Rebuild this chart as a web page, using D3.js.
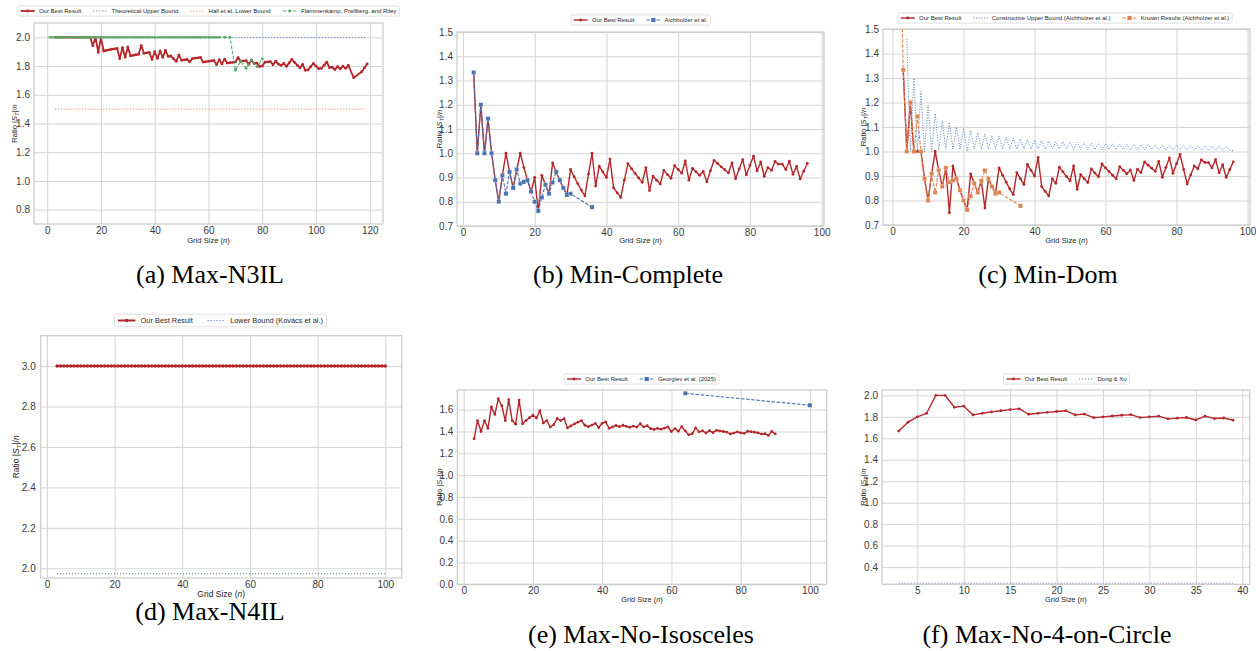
<!DOCTYPE html>
<html>
<head>
<meta charset="utf-8">
<script src="https://d3js.org/d3.v7.min.js"></script>
<style>
  body { margin: 0; background: #fff; }
  svg { font-family: "Liberation Sans", Arial, sans-serif; }
  .grid line { stroke: #d4d4d4; stroke-width: 1; }
  .grid path { display: none; }
  .grid text { fill: #3a3a3a; }
  .frame { fill: none; stroke: #cccccc; stroke-width: 1.25; }
  .axlab { fill: #262626; }
  .caption { font-family: "Liberation Serif", "DejaVu Serif", serif; fill: #000; }
</style>
</head>
<body>
<script>
// ---------- data ----------
// (a) Max-N3IL
var n3ilN = d3.range(3, 113).concat([114, 117, 118, 119]);
var n3ilBest = [2.0, 2.0, 2.0, 2.0, 2.0, 2.0, 2.0, 2.0, 2.0, 2.0, 2.0, 2.0, 2.0, 2.0,
  1.941, 2.0, 1.895, 2.0, 1.905, 1.909, 1.913, 1.917, 1.92, 1.923,
  1.852, 1.929, 1.862, 1.933, 1.871, 1.875, 1.879, 1.882, 1.943, 1.889,
  1.892, 1.895, 1.846, 1.9, 1.854, 1.905, 1.86, 1.909, 1.867, 1.87,
  1.851, 1.833, 1.878, 1.84, 1.843, 1.846, 1.83, 1.852, 1.855, 1.857,
  1.86, 1.828, 1.831, 1.833, 1.836, 1.839, 1.81, 1.844, 1.815, 1.848,
  1.821, 1.824, 1.826, 1.829, 1.859, 1.833, 1.836, 1.838, 1.813, 1.842,
  1.818, 1.821, 1.797, 1.8, 1.827, 1.829, 1.831, 1.81, 1.835, 1.814,
  1.805, 1.818, 1.798, 1.822, 1.846, 1.826, 1.806, 1.787, 1.811, 1.771,
  1.773, 1.796, 1.818, 1.8, 1.782, 1.784, 1.806, 1.827, 1.79, 1.792,
  1.776, 1.796, 1.78, 1.8, 1.784, 1.804,
  1.719, 1.761, 1.788, 1.815];
var n3ilUpperN = [3, 119], n3ilUpperV = [2.0, 2.0];
var n3ilHallN = [3, 119], n3ilHallV = [1.5, 1.5];
var n3ilFlamN = d3.range(1, 65).concat([66, 68, 70, 72, 74, 76, 78, 80]);
var n3ilFlamV = [2.0, 2.0, 2.0, 2.0, 2.0, 2.0, 2.0, 2.0, 2.0, 2.0, 2.0, 2.0, 2.0, 2.0, 2.0, 2.0,
  2.0, 2.0, 2.0, 2.0, 2.0, 2.0, 2.0, 2.0, 2.0, 2.0, 2.0, 2.0, 2.0, 2.0, 2.0, 2.0,
  2.0, 2.0, 2.0, 2.0, 2.0, 2.0, 2.0, 2.0, 2.0, 2.0, 2.0, 2.0, 2.0, 2.0, 2.0, 2.0,
  2.0, 2.0, 2.0, 2.0, 2.0, 2.0, 2.0, 2.0, 2.0, 2.0, 2.0, 2.0, 2.0, 2.0, 2.0, 2.0,
  2.0, 2.0, 1.771, 1.833, 1.784, 1.842, 1.795, 1.85];

// (b) Min-Complete
var completeN = d3.range(3, 97);
var completeBest = [1.333, 1.0, 1.2, 1.0, 1.143, 1.0, 0.889, 0.8, 0.909, 1.0,
  0.923, 0.857, 0.933, 1.0, 0.941, 0.889, 0.842, 0.9, 0.762, 0.909,
  0.870, 0.833, 0.96, 0.923, 0.889, 0.857, 0.828, 0.933, 0.903, 0.875,
  0.848, 0.824, 0.914, 1.0, 0.865, 0.947, 0.923, 0.9, 0.976, 0.857,
  0.837, 0.818, 0.889, 0.957, 0.936, 0.917, 0.898, 0.88, 0.941, 0.846,
  0.906, 0.889, 0.873, 0.929, 0.912, 0.897, 0.949, 0.933, 0.918, 0.968,
  0.889, 0.938, 0.923, 0.909, 0.925, 0.882, 0.928, 0.971, 0.958, 0.944,
  0.932, 0.919, 0.96, 0.895, 0.935, 0.974, 0.911, 0.95, 0.988, 0.927,
  0.964, 0.905, 0.941, 0.93, 0.966, 0.955, 0.955, 0.933, 0.967, 0.913,
  0.946, 0.894, 0.926, 0.958];
var aichN = d3.range(3, 31).concat([36]);
var aichV = [1.333, 1.0, 1.2, 1.0, 1.143, 1.0, 0.889, 0.8, 0.909, 0.833,
  0.923, 0.857, 0.933, 0.875, 0.882, 0.889, 0.842, 0.8, 0.762, 0.818,
  0.870, 0.833, 0.88, 0.923, 0.889, 0.857, 0.828, 0.833, 0.778];

// (c) Min-Dom
var domN = d3.range(3, 97);
var domBest = [1.333, 1.0, 1.2, 1.0, 1.0, 1.0, 0.889, 0.8, 0.909, 1.0,
  0.923, 0.857, 0.933, 0.75, 0.941, 0.889, 0.842, 0.8, 0.762, 0.909,
  0.870, 0.833, 0.88, 0.769, 0.889, 0.857, 0.828, 0.933, 0.903, 0.875,
  0.848, 0.824, 0.914, 0.889, 0.865, 0.947, 0.923, 0.9, 0.976, 0.857,
  0.837, 0.818, 0.889, 0.87, 0.936, 0.917, 0.898, 0.88, 0.941, 0.846,
  0.906, 0.889, 0.873, 0.929, 0.912, 0.897, 0.949, 0.933, 0.918, 0.903,
  0.889, 0.938, 0.923, 0.909, 0.925, 0.882, 0.928, 0.914, 0.958, 0.944,
  0.932, 0.919, 0.96, 0.895, 0.935, 0.974, 0.911, 0.95, 0.988, 0.927,
  0.867, 0.905, 0.941, 0.93, 0.966, 0.955, 0.955, 0.933, 0.967, 0.913,
  0.946, 0.894, 0.926, 0.958];
var domUpperN = d3.range(4, 97);
var domUpperV = [1.46, 1.0, 1.30, 1.0, 1.245, 1.0, 1.19, 1.0, 1.155, 1.005,
  1.125, 1.01, 1.12, 1.01, 1.10, 1.01, 1.095, 1.0, 1.087, 1.01,
  1.078, 1.01, 1.072, 1.01, 1.066, 1.01, 1.062, 1.01, 1.058, 1.01,
  1.054, 1.01, 1.052, 1.01, 1.049, 1.01, 1.047, 1.01, 1.045, 1.01,
  1.043, 1.01, 1.041, 1.01, 1.04, 1.01, 1.038, 1.008, 1.037, 1.008,
  1.036, 1.008, 1.034, 1.008, 1.033, 1.008, 1.032, 1.008, 1.031, 1.008,
  1.03, 1.008, 1.029, 1.007, 1.028, 1.007, 1.028, 1.007, 1.027, 1.007,
  1.026, 1.007, 1.026, 1.006, 1.025, 1.006, 1.025, 1.006, 1.024, 1.006,
  1.023, 1.006, 1.023, 1.006, 1.022, 1.005, 1.022, 1.005, 1.021, 1.005,
  1.021, 1.005, 1.003];
var domKnownN = [2].concat(d3.range(3, 31), [36]);
var domKnownV = [2.0, 1.333, 1.0, 1.2, 1.0, 1.143, 1.0, 0.889, 0.8, 0.909, 0.833,
  0.923, 0.857, 0.933, 0.875, 0.882, 0.889, 0.842, 0.8, 0.762, 0.818,
  0.870, 0.833, 0.88, 0.923, 0.889, 0.857, 0.828, 0.833, 0.778];

// (d) Max-N4IL
var n4ilN = d3.range(3, 101);
var n4ilBest = [3.0, 3.0, 3.0, 3.0, 3.0, 3.0, 3.0, 3.0, 3.0, 3.0, 3.0, 3.0, 3.0, 3.0,
  3.0, 3.0, 3.0, 3.0, 3.0, 3.0, 3.0, 3.0, 3.0, 3.0, 3.0, 3.0, 3.0, 3.0,
  3.0, 3.0, 3.0, 3.0, 3.0, 3.0, 3.0, 3.0, 3.0, 3.0, 3.0, 3.0, 3.0, 3.0,
  3.0, 3.0, 3.0, 3.0, 3.0, 3.0, 3.0, 3.0, 3.0, 3.0, 3.0, 3.0, 3.0, 3.0,
  3.0, 3.0, 3.0, 3.0, 3.0, 3.0, 3.0, 3.0, 3.0, 3.0, 3.0, 3.0, 3.0, 3.0,
  3.0, 3.0, 3.0, 3.0, 3.0, 3.0, 3.0, 3.0, 3.0, 3.0, 3.0, 3.0, 3.0, 3.0,
  3.0, 3.0, 3.0, 3.0, 3.0, 3.0, 3.0, 3.0, 3.0, 3.0, 3.0, 3.0, 3.0, 3.0];
var n4ilLowerN = [3, 100], n4ilLowerV = [1.973, 1.973];

// (e) Max-No-Isosceles
var isoN = d3.range(3, 91);
var isoBest = [1.333, 1.5, 1.4, 1.5, 1.429, 1.625, 1.556, 1.7, 1.636, 1.5,
  1.692, 1.5, 1.467, 1.688, 1.471, 1.5, 1.526, 1.55, 1.524, 1.591,
  1.478, 1.5, 1.44, 1.462, 1.519, 1.5, 1.517, 1.433, 1.452, 1.469,
  1.485, 1.5, 1.457, 1.444, 1.459, 1.474, 1.436, 1.475, 1.488, 1.429,
  1.442, 1.455, 1.444, 1.457, 1.447, 1.438, 1.449, 1.44, 1.471, 1.442,
  1.453, 1.426, 1.418, 1.429, 1.421, 1.431, 1.441, 1.4, 1.426, 1.403,
  1.444, 1.406, 1.369, 1.379, 1.433, 1.397, 1.406, 1.386, 1.408, 1.389,
  1.411, 1.405, 1.4, 1.395, 1.377, 1.385, 1.397, 1.388, 1.383, 1.402,
  1.398, 1.393, 1.388, 1.376, 1.379, 1.364, 1.4, 1.378];
var georgievN = [64, 100], georgievV = [1.75, 1.64];

// (f) Max-No-4-on-Circle
var circN = d3.range(3, 40);
var circBest = [1.667, 1.75, 1.8, 1.833, 2.0, 2.0, 1.889, 1.9, 1.818, 1.833,
  1.846, 1.857, 1.867, 1.875, 1.824, 1.833, 1.842, 1.85, 1.857, 1.818,
  1.826, 1.792, 1.8, 1.808, 1.815, 1.821, 1.793, 1.8, 1.806, 1.781,
  1.788, 1.794, 1.771, 1.806, 1.784, 1.789, 1.769];
var dongN = [3, 39], dongV = [0.25, 0.25];

// tick values
var ticks0to100 = [0, 20, 40, 60, 80, 100];
var ticks0to120 = [0, 20, 40, 60, 80, 100, 120];
var ticks5to40 = [5, 10, 15, 20, 25, 30, 35, 40];
var yTicksA = [0.8, 1.0, 1.2, 1.4, 1.6, 1.8, 2.0];
var yTicksBC = [0.7, 0.8, 0.9, 1.0, 1.1, 1.2, 1.3, 1.4, 1.5];
var yTicksD = [2.0, 2.2, 2.4, 2.6, 2.8, 3.0];
var yTicksE = [0.0, 0.2, 0.4, 0.6, 0.8, 1.0, 1.2, 1.4, 1.6];
var yTicksF = [0.4, 0.6, 0.8, 1.0, 1.2, 1.4, 1.6, 1.8, 2.0];

// colours
var RED = "#b4262a", BLUE = "#4c72b0", ORANGE = "#dd8452", GREEN = "#55a868";

// ---------- drawing ----------
var svg = d3.select("body").append("svg").attr("width", 1256).attr("height", 651);
var clipId = 0;

function drawSeries(g, x, y, s) {
  var pts = s.n.map(function (n, i) { return [n, s.v[i]]; });
  var line = d3.line().x(function (d) { return x(d[0]); }).y(function (d) { return y(d[1]); });
  g.append("path").attr("d", line(pts))
    .attr("fill", "none").attr("stroke", s.color).attr("stroke-width", s.lw)
    .attr("stroke-dasharray", s.dash || null).attr("stroke-linejoin", "round");
  if (s.marker === "o") {
    g.selectAll(null).data(pts).enter().append("circle")
      .attr("cx", function (d) { return x(d[0]); })
      .attr("cy", function (d) { return y(d[1]); })
      .attr("r", s.ms).attr("fill", s.color);
  } else if (s.marker === "s") {
    g.selectAll(null).data(pts).enter().append("rect")
      .attr("x", function (d) { return x(d[0]) - s.ms; })
      .attr("y", function (d) { return y(d[1]) - s.ms; })
      .attr("width", 2 * s.ms).attr("height", 2 * s.ms)
      .attr("fill", s.color).attr("stroke", "#fff").attr("stroke-width", 0.4).attr("stroke-opacity", 0.6);
  }
}

// "Ratio |S_T|/n" in mathtext style, shifts given in px so rotation does not matter
function ratioLabel(sel, fs) {
  var sub = fs * 0.22;
  sel.append("tspan").text("Ratio |");
  sel.append("tspan").attr("font-style", "italic").text("S");
  sel.append("tspan").attr("font-style", "italic").attr("font-size", fs * 0.7).attr("dy", sub).text("T");
  sel.append("tspan").attr("dy", -sub).text("|/");
  sel.append("tspan").attr("font-style", "italic").text("n");
}

function gridLabel(sel) {
  sel.append("tspan").text("Grid Size (");
  sel.append("tspan").attr("font-style", "italic").text("n");
  sel.append("tspan").text(")");
}

function legend(cfg, items) {
  var fs = cfg.fs, hl = fs * 2.35, gap = fs * 0.7, colgap = fs * 2, pad = fs * 0.5, h = fs * 1.7;
  var lg = svg.append("g").attr("font-size", fs);
  var box = lg.append("rect");
  var x0 = 0;
  items.forEach(function (it) {
    lg.append("line").attr("x1", x0).attr("x2", x0 + hl).attr("y1", 0).attr("y2", 0)
      .attr("stroke", it.color).attr("stroke-width", it.lw).attr("stroke-dasharray", it.dash || null);
    if (it.marker === "o") {
      lg.append("circle").attr("cx", x0 + hl / 2).attr("cy", 0).attr("r", it.ms).attr("fill", it.color);
    } else if (it.marker === "s") {
      lg.append("rect").attr("x", x0 + hl / 2 - it.ms).attr("y", -it.ms)
        .attr("width", 2 * it.ms).attr("height", 2 * it.ms).attr("fill", it.color);
    }
    var t = lg.append("text").attr("x", x0 + hl + gap).attr("y", 0).attr("dy", "0.35em")
      .attr("fill", "#262626").text(it.label);
    x0 += hl + gap + t.node().getComputedTextLength() + colgap;
  });
  var total = x0 - colgap;
  box.attr("x", -pad).attr("y", -h / 2).attr("width", total + 2 * pad).attr("height", h)
    .attr("rx", 1.5).attr("fill", "#fff").attr("fill-opacity", 0.85)
    .attr("stroke", "#d8d8d8").attr("stroke-width", 0.8);
  lg.attr("transform", "translate(" + (cfg.cx - total / 2) + "," + cfg.cy + ")");
}

function panel(p) {
  var x = d3.scaleLinear().domain(p.xd).range([p.l, p.r]);
  var y = d3.scaleLinear().domain(p.yd).range([p.b, p.t]);
  var g = svg.append("g");

  g.append("g").attr("class", "grid").attr("transform", "translate(0," + p.b + ")")
    .attr("font-size", p.fs)
    .call(d3.axisBottom(x).tickValues(p.xt).tickSize(-(p.b - p.t)).tickPadding(p.xpad || 3).tickFormat(d3.format("d")));
  g.append("g").attr("class", "grid").attr("transform", "translate(" + p.l + ",0)")
    .attr("font-size", p.fs)
    .call(d3.axisLeft(y).tickValues(p.yt).tickSize(-(p.r - p.l)).tickPadding(p.ypad || 4).tickFormat(d3.format(".1f")));
  g.selectAll(".grid text").attr("font-family", null);

  var id = "clip" + (clipId++);
  svg.append("clipPath").attr("id", id).append("rect")
    .attr("x", p.l).attr("y", p.t).attr("width", p.r - p.l).attr("height", p.b - p.t);
  var data = g.append("g").attr("clip-path", "url(#" + id + ")");
  p.series.forEach(function (s) { drawSeries(data, x, y, s); });

  g.append("rect").attr("class", "frame")
    .attr("x", p.l).attr("y", p.t).attr("width", p.r - p.l).attr("height", p.b - p.t);

  g.append("text").attr("class", "axlab").attr("font-size", p.lfs)
    .attr("x", (p.l + p.r) / 2).attr("y", p.xly).attr("text-anchor", "middle").call(gridLabel);
  g.append("text").attr("class", "axlab").attr("font-size", p.lfs)
    .attr("text-anchor", "middle")
    .attr("transform", "translate(" + p.ylx + "," + (p.t + p.b) / 2 + ") rotate(-90)")
    .call(ratioLabel, p.lfs);

  legend(p.legend, p.series);

  svg.append("text").attr("class", "caption").attr("font-size", 26)
    .attr("x", p.cap.x).attr("y", p.cap.y).attr("text-anchor", "middle").text(p.cap.text);
}

function best(n, v, lw, ms) {
  return { label: "Our Best Result", n: n, v: v, color: RED, lw: lw, marker: "o", ms: ms };
}

// (a)
panel({
  l: 34, r: 383, t: 23, b: 224, xd: [-4.9, 124.9], yd: [0.7, 2.1],
  xt: ticks0to120, yt: yTicksA, fs: 6.7, lfs: 7.6, xly: 243, ylx: 17,
  legend: { cx: 208.5, cy: 11, fs: 6 },
  cap: { text: "(a) Max-N3IL", x: 210, y: 283 },
  series: [
    best(n3ilN, n3ilBest, 1.8, 1.4),
    { label: "Theoretical Upper Bound", n: n3ilUpperN, v: n3ilUpperV, color: BLUE, lw: 1, dash: "1,2" },
    { label: "Hall et al. Lower Bound", n: n3ilHallN, v: n3ilHallV, color: ORANGE, lw: 1, dash: "1,2" },
    { label: "Flammenkamp, Prellberg, and Riley", n: n3ilFlamN, v: n3ilFlamV, color: GREEN, lw: 1.1, dash: "3.5,1.6", marker: "o", ms: 1.4 }
  ]
});

// (b)
panel({
  l: 457, r: 824, t: 32, b: 226, xd: [-1.65, 100.65], yd: [0.7, 1.5],
  xt: ticks0to100, yt: yTicksBC, fs: 6.7, lfs: 7.6, xly: 243, ylx: 442,
  legend: { cx: 640.5, cy: 20, fs: 6 },
  cap: { text: "(b) Min-Complete", x: 628, y: 283 },
  series: [
    best(completeN, completeBest, 1.4, 1.4),
    { label: "Aichholzer et al.", n: aichN, v: aichV, color: BLUE, lw: 1.1, dash: "3.5,1.6", marker: "s", ms: 2.1 }
  ]
});

// (c)
panel({
  l: 883, r: 1250, t: 29, b: 225, xd: [-2.7, 100.7], yd: [0.7, 1.5],
  xt: ticks0to100, yt: yTicksBC, fs: 6.7, lfs: 7.6, xly: 243, ylx: 866,
  legend: { cx: 1065, cy: 18, fs: 6 },
  cap: { text: "(c) Min-Dom", x: 1048, y: 283 },
  series: [
    best(domN, domBest, 1.4, 1.4),
    { label: "Constructive Upper Bound (Aichholzer et al.)", n: domUpperN, v: domUpperV, color: BLUE, lw: 0.9, dash: "1,1.6" },
    { label: "Known Results (Aichholzer et al.)", n: domKnownN, v: domKnownV, color: ORANGE, lw: 1.1, dash: "3.5,1.6", marker: "s", ms: 2.1 }
  ]
});

// (d)
panel({
  l: 40.7, r: 401.7, t: 335.7, b: 578, xd: [-1.85, 104.85], yd: [1.952, 3.15],
  xt: ticks0to100, yt: yTicksD, fs: 8, lfs: 8.5, xly: 597, ylx: 19, ypad: 5,
  legend: { cx: 220.5, cy: 320.5, fs: 7.4 },
  cap: { text: "(d) Max-N4IL", x: 210, y: 620 },
  series: [
    best(n4ilN, n4ilBest, 2, 1.8),
    { label: "Lower Bound (Kovács et al.)", n: n4ilLowerN, v: n4ilLowerV, color: BLUE, lw: 1, dash: "1,2" }
  ]
});

// (e)
panel({
  l: 457.3, r: 826.7, t: 390, b: 584.3, xd: [-1.85, 104.85], yd: [0, 1.78],
  xt: ticks0to100, yt: yTicksE, fs: 6.5, lfs: 7.4, xly: 602, ylx: 442,
  legend: { cx: 641.5, cy: 379, fs: 6 },
  cap: { text: "(e) Max-No-Isosceles", x: 641, y: 643 },
  series: [
    best(isoN, isoBest, 1.4, 1.4),
    { label: "Georgiev et al. (2025)", n: georgievN, v: georgievV, color: BLUE, lw: 1.1, dash: "3.5,1.6", marker: "s", ms: 2.1 }
  ]
});

// (f)
panel({
  l: 882, r: 1249.7, t: 390, b: 584.3, xd: [1.2, 40.8], yd: [0.24, 2.05],
  xt: ticks5to40, yt: yTicksF, fs: 6.5, lfs: 7.4, xly: 602, ylx: 866,
  legend: { cx: 1066.5, cy: 379, fs: 6 },
  cap: { text: "(f) Max-No-4-on-Circle", x: 1047, y: 643 },
  series: [
    best(circN, circBest, 1.4, 1.4),
    { label: "Dong & Xu", n: dongN, v: dongV, color: BLUE, lw: 1, dash: "1,2" }
  ]
});
</script>
</body>
</html>
